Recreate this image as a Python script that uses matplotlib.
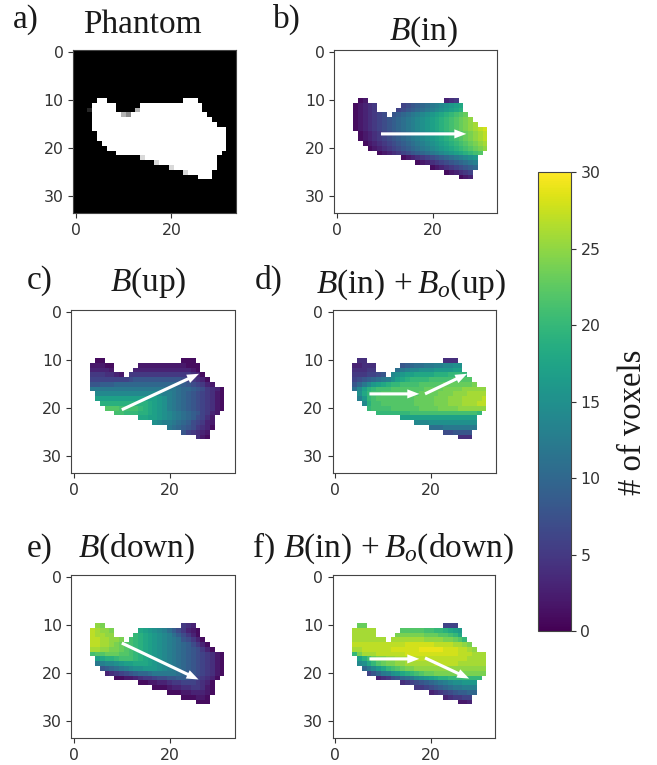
import numpy as np
import matplotlib
matplotlib.use('Agg')
import matplotlib.pyplot as plt

plt.rcParams['mathtext.fontset'] = 'custom'
plt.rcParams['mathtext.rm'] = 'Liberation Serif'
plt.rcParams['mathtext.it'] = 'Liberation Serif:italic'

W, H = 657, 765
N = 34

# voxel columns of the phantom in each row: (first, last)
spans = {
    10: [(5, 6), (23, 25)], 11: [(4, 8), (14, 26)], 12: [(4, 8), (13, 26)],
    13: [(4, 10), (12, 27)], 14: [(4, 28)], 15: [(4, 29)], 16: [(4, 31)],
    17: [(5, 31)], 18: [(5, 31)], 19: [(6, 31)], 20: [(7, 31)], 21: [(9, 30)],
    22: [(14, 29)], 23: [(17, 29)], 24: [(20, 29)], 25: [(23, 28)], 26: [(26, 28)],
}

# partly filled voxels at the edge of the phantom: (row, col, level)
phantom_grey = [(12, 3, 0.15), (13, 10, 0.7), (13, 11, 0.55), (12, 13, 0.7),
                (22, 14, 0.85), (23, 17, 0.85), (24, 20, 0.85), (25, 23, 0.85)]

# number of voxels read per row, left to right
b_in = {
    10: [1, 2, 3, 4, 5],
    11: [1, 2, 3, 4, 5, 6, 7, 8, 9, 10, 11, 12, 13, 14, 15, 16, 17, 18],
    12: [1, 2, 3, 4, 5, 6, 7, 8, 9, 10, 11, 12, 13, 14, 15, 16, 17, 18, 19],
    13: [1, 2, 3, 4, 5, 6, 7, 8, 9, 10, 11, 12, 13, 14, 15, 16, 17, 18, 19, 20, 21, 22, 23],
    14: [1, 2, 3, 4, 5, 6, 7, 8, 9, 10, 11, 12, 13, 14, 15, 16, 17, 18, 19, 20, 21, 22, 23, 24, 25],
    15: [1, 2, 3, 4, 5, 6, 7, 8, 9, 10, 11, 12, 13, 14, 15, 16, 17, 18, 19, 20, 21, 22, 23, 24, 25, 26],
    16: [1, 2, 3, 4, 5, 6, 7, 8, 9, 10, 11, 12, 13, 14, 15, 16, 17, 18, 19, 20, 21, 22, 23, 24, 25, 26, 27, 28],
    17: [1, 2, 3, 4, 5, 6, 7, 8, 9, 10, 11, 12, 13, 14, 15, 16, 17, 18, 19, 20, 21, 22, 23, 24, 25, 26, 27],
    18: [1, 2, 3, 4, 5, 6, 7, 8, 9, 10, 11, 12, 13, 14, 15, 16, 17, 18, 19, 20, 21, 22, 23, 24, 25, 26, 27],
    19: [1, 2, 3, 4, 5, 6, 7, 8, 9, 10, 11, 12, 13, 14, 15, 16, 17, 18, 19, 20, 21, 22, 23, 24, 25, 26],
    20: [1, 2, 3, 4, 5, 6, 7, 8, 9, 10, 11, 12, 13, 14, 15, 16, 17, 18, 19, 20, 21, 22, 23, 24, 25],
    21: [1, 2, 3, 4, 5, 6, 7, 8, 9, 10, 11, 12, 13, 14, 15, 16, 17, 18, 19, 20, 21, 22],
    22: [1, 2, 3, 4, 5, 6, 7, 8, 9, 10, 11, 12, 13, 14, 15, 16],
    23: [1, 2, 3, 4, 5, 6, 7, 8, 9, 10, 11, 12, 13],
    24: [1, 2, 3, 4, 5, 6, 7, 8, 9, 10],
    25: [1, 2, 3, 4, 5, 6],
    26: [1, 2, 3],
}
b_up = {
    10: [1, 1, 1, 1, 1],
    11: [2, 2, 2, 1, 1, 2, 2, 2, 2, 2, 2, 2, 2, 2, 2, 1, 1, 1],
    12: [3, 3, 3, 3, 2, 3, 3, 3, 3, 3, 3, 3, 3, 3, 3, 3, 3, 2, 1],
    13: [5, 5, 5, 4, 4, 3, 2, 5, 5, 5, 5, 5, 5, 5, 5, 5, 5, 5, 5, 5, 4, 3, 1],
    14: [6, 6, 6, 6, 6, 6, 6, 6, 7, 8, 8, 8, 8, 8, 8, 8, 8, 8, 8, 7, 6, 5, 4, 3, 1],
    15: [8, 8, 9, 9, 9, 10, 10, 10, 10, 10, 10, 10, 10, 10, 10, 10, 10, 10, 10, 9, 8, 7, 6, 5, 3, 2],
    16: [12, 12, 12, 12, 12, 12, 12, 12, 12, 12, 12, 12, 12, 12, 12, 12, 12, 12, 11, 10, 10, 9, 8, 7, 5, 4, 3, 1],
    17: [14, 14, 14, 14, 14, 14, 14, 14, 14, 14, 14, 14, 14, 14, 13, 13, 12, 11, 10, 9, 8, 7, 6, 5, 4, 2, 1],
    18: [17, 17, 17, 17, 17, 17, 17, 17, 17, 17, 17, 17, 17, 16, 15, 13, 12, 11, 10, 9, 8, 7, 6, 5, 4, 2, 1],
    19: [19, 19, 19, 19, 19, 19, 19, 19, 19, 19, 18, 17, 16, 15, 13, 12, 11, 10, 9, 8, 7, 6, 5, 4, 2, 1],
    20: [22, 22, 22, 21, 21, 21, 21, 20, 19, 18, 17, 16, 15, 13, 12, 11, 10, 9, 8, 7, 6, 5, 4, 2, 1],
    21: [21, 21, 20, 20, 20, 19, 19, 18, 17, 16, 15, 14, 13, 12, 11, 10, 9, 8, 6, 5, 3, 2],
    22: [18, 18, 17, 17, 16, 15, 14, 13, 12, 11, 10, 9, 7, 6, 4, 2],
    23: [15, 14, 13, 13, 12, 11, 10, 9, 7, 6, 5, 3, 2],
    24: [12, 11, 10, 9, 8, 7, 5, 4, 3, 1],
    25: [8, 6, 5, 4, 3, 2],
    26: [4, 2, 1],
}
b_down = {
    10: [25, 24, 5, 4, 3],
    11: [27, 26, 25, 25, 24, 18, 17, 16, 15, 14, 13, 11, 9, 7, 5, 3, 2, 1],
    12: [27, 26, 26, 25, 25, 20, 19, 18, 17, 16, 15, 14, 13, 11, 9, 7, 5, 3, 1],
    13: [27, 27, 26, 26, 25, 25, 24, 21, 20, 19, 18, 17, 16, 15, 14, 13, 12, 11, 8, 7, 5, 3, 1],
    14: [27, 27, 26, 26, 25, 24, 23, 22, 21, 20, 19, 18, 17, 16, 15, 14, 13, 12, 11, 10, 9, 7, 5, 3, 1],
    15: [26, 26, 25, 25, 24, 24, 23, 22, 21, 20, 19, 18, 17, 16, 15, 14, 13, 12, 11, 10, 9, 8, 7, 5, 3, 1],
    16: [21, 22, 22, 23, 23, 23, 22, 22, 21, 20, 19, 18, 17, 16, 15, 14, 13, 12, 11, 10, 9, 8, 7, 6, 5, 4, 2, 1],
    17: [17, 18, 19, 19, 20, 21, 21, 21, 20, 19, 18, 17, 16, 15, 14, 13, 12, 11, 10, 9, 8, 7, 6, 5, 4, 2, 1],
    18: [12, 13, 14, 14, 15, 16, 17, 17, 18, 18, 18, 17, 16, 15, 14, 13, 12, 11, 10, 9, 8, 7, 6, 5, 4, 2, 1],
    19: [8, 9, 10, 11, 12, 13, 14, 15, 15, 16, 16, 16, 15, 14, 13, 12, 11, 10, 9, 8, 7, 6, 5, 4, 2, 1],
    20: [3, 4, 5, 6, 7, 8, 9, 10, 10, 11, 12, 12, 12, 12, 12, 11, 10, 9, 8, 7, 6, 5, 4, 2, 1],
    21: [1, 1, 2, 2, 3, 4, 5, 5, 6, 7, 7, 8, 8, 9, 9, 8, 7, 6, 5, 4, 3, 1],
    22: [1, 1, 2, 2, 3, 3, 4, 5, 5, 6, 6, 6, 5, 4, 3, 1],
    23: [1, 1, 1, 2, 3, 3, 4, 4, 5, 5, 4, 2, 1],
    24: [1, 1, 1, 2, 2, 3, 3, 3, 2, 1],
    25: [1, 1, 1, 2, 2, 1],
    26: [1, 1, 1],
}
b_in_o_up = {
    10: [4, 4, 4, 4, 4],
    11: [3, 3, 4, 4, 4, 8, 9, 10, 11, 11, 12, 12, 13, 13, 14, 14, 15, 15],
    12: [4, 4, 4, 5, 5, 11, 12, 13, 14, 14, 15, 15, 15, 16, 16, 16, 16, 17, 17],
    13: [5, 5, 5, 6, 6, 7, 8, 14, 15, 16, 17, 17, 18, 18, 18, 18, 19, 19, 19, 20, 20, 20, 20],
    14: [6, 7, 8, 9, 10, 11, 12, 13, 15, 17, 18, 19, 20, 20, 20, 20, 21, 21, 21, 21, 21, 22, 22, 22, 22],
    15: [8, 10, 12, 14, 16, 17, 18, 19, 20, 20, 21, 21, 21, 21, 22, 22, 22, 22, 22, 23, 23, 23, 23, 23, 23, 24],
    16: [11, 14, 17, 19, 20, 21, 21, 21, 22, 22, 22, 22, 22, 22, 22, 23, 23, 23, 23, 24, 24, 24, 24, 25, 25, 25, 25, 25],
    17: [15, 18, 20, 21, 21, 22, 22, 22, 22, 22, 22, 22, 22, 23, 23, 23, 23, 24, 24, 24, 25, 25, 25, 26, 26, 26, 26],
    18: [13, 16, 20, 21, 22, 22, 22, 22, 22, 22, 22, 22, 23, 23, 23, 23, 24, 24, 24, 25, 25, 25, 26, 26, 26, 26, 27],
    19: [14, 19, 21, 21, 22, 22, 22, 22, 22, 22, 22, 23, 23, 23, 23, 24, 24, 24, 25, 25, 25, 26, 26, 26, 27, 27],
    20: [20, 21, 21, 21, 21, 22, 22, 22, 22, 22, 22, 23, 23, 23, 23, 24, 24, 24, 24, 25, 25, 25, 25, 25, 25],
    21: [20, 20, 20, 20, 20, 20, 20, 21, 21, 21, 21, 21, 21, 21, 21, 21, 21, 21, 21, 21, 21, 20],
    22: [17, 17, 17, 17, 17, 17, 17, 17, 17, 17, 17, 17, 17, 17, 17, 17],
    23: [14, 14, 14, 15, 15, 15, 15, 15, 15, 15, 15, 15, 15],
    24: [11, 11, 11, 12, 12, 12, 12, 12, 12, 12],
    25: [7, 7, 8, 8, 8, 8],
    26: [4, 4, 4],
}
b_in_o_down = {
    10: [23, 23, 6, 6, 6],
    11: [26, 26, 26, 26, 26, 22, 22, 22, 22, 22, 21, 21, 20, 20, 19, 18, 17, 16],
    12: [26, 26, 26, 26, 26, 24, 24, 24, 24, 24, 24, 23, 23, 23, 22, 22, 21, 20, 18],
    13: [26, 26, 26, 26, 26, 26, 26, 26, 26, 26, 26, 26, 26, 26, 25, 25, 25, 25, 24, 24, 23, 22, 20],
    14: [27, 27, 27, 27, 27, 27, 27, 27, 27, 27, 27, 28, 28, 28, 28, 28, 28, 27, 27, 27, 27, 26, 26, 25, 24],
    15: [26, 26, 27, 27, 27, 27, 27, 27, 28, 28, 28, 28, 28, 28, 29, 29, 29, 29, 29, 28, 28, 28, 27, 27, 26, 25],
    16: [20, 24, 26, 26, 26, 27, 27, 27, 27, 27, 27, 28, 28, 28, 28, 28, 28, 28, 28, 28, 28, 28, 27, 27, 27, 26, 26, 26],
    17: [17, 19, 21, 23, 24, 24, 25, 25, 26, 26, 26, 27, 27, 27, 27, 27, 27, 27, 27, 27, 27, 27, 27, 26, 26, 26, 26],
    18: [14, 15, 18, 20, 22, 23, 24, 24, 25, 25, 26, 26, 26, 26, 26, 26, 27, 27, 27, 27, 27, 26, 26, 26, 26, 26, 26],
    19: [10, 12, 14, 16, 18, 20, 21, 22, 23, 24, 24, 25, 25, 25, 25, 25, 25, 25, 25, 25, 25, 25, 25, 25, 25, 25],
    20: [6, 8, 10, 12, 13, 15, 16, 18, 19, 20, 21, 22, 23, 23, 24, 24, 24, 24, 24, 24, 24, 24, 24, 24, 24],
    21: [3, 4, 5, 7, 8, 10, 11, 12, 14, 15, 16, 17, 18, 19, 19, 20, 20, 20, 20, 20, 20, 20],
    22: [4, 5, 6, 7, 8, 9, 10, 11, 12, 13, 14, 15, 15, 16, 16, 16],
    23: [5, 5, 6, 7, 8, 9, 10, 11, 12, 12, 13, 13, 13],
    24: [3, 4, 5, 6, 7, 8, 9, 9, 10, 10],
    25: [3, 4, 5, 5, 6, 6],
    26: [2, 2, 3],
}

# arrows per panel: (x start, y start, x end, y end)
arrows_b = [(9.2, 17, 27, 17)]
arrows_c = [(10, 20.3, 26.1, 12.8)]
arrows_d = [(7.2, 17, 17.6, 17), (18.8, 17, 27.6, 12.8)]
arrows_e = [(10, 13.7, 26, 21.3)]
arrows_f = [(7.2, 17, 17.6, 17), (18.8, 16.8, 28, 21.1)]

cbar_ticks = [0, 5, 10, 15, 20, 25, 30]
x_ticks = [0, 20]
y_ticks = [0, 10, 20, 30]


def to_grid(rows):
    grid = np.full((N, N), np.nan)
    for r, vals in rows.items():
        cols = [c for a, z in spans[r] for c in range(a, z + 1)]
        assert len(cols) == len(vals), (r, len(cols), len(vals))
        grid[r, cols] = vals
    return grid


def box(l, t, r, b):
    # pixel box to figure fractions
    return [l / W, 1 - b / H, (r - l) / W, (b - t) / H]


def label(x, y, s, size=24, **kw):
    fig.text(x / W, 1 - y / H, s, fontsize=size, family='Liberation Serif',
             va='baseline', color='#1a1a1a', **kw)


def style(ax):
    ax.set_xticks(x_ticks)
    ax.set_yticks(y_ticks)
    ax.tick_params(labelsize=11.3, length=3.5, width=0.8, colors='#333333')
    for s in ax.spines.values():
        s.set_color('#444444')


fig = plt.figure(figsize=(W / 100, H / 100), dpi=100)

# phantom
ax = fig.add_axes(box(72.7, 50, 236.7, 213))
phantom = np.zeros((N, N))
for r, parts in spans.items():
    for a, z in parts:
        phantom[r, a:z + 1] = 1
for r, c, v in phantom_grey:
    phantom[r, c] = v
ax.imshow(phantom, cmap='gray', vmin=0, vmax=1, interpolation='nearest')
style(ax)

panels = [
    (b_in, arrows_b, (334.3, 50, 497.7, 213)),
    (b_up, arrows_c, (71.3, 310, 234.7, 473)),
    (b_in_o_up, arrows_d, (332.3, 310, 495.7, 473)),
    (b_down, arrows_e, (71.3, 575, 234.7, 738)),
    (b_in_o_down, arrows_f, (332.3, 575, 495.7, 738)),
]
for rows, arrows, pos in panels:
    ax = fig.add_axes(box(*pos))
    im = ax.imshow(to_grid(rows), cmap='viridis', vmin=0, vmax=30, interpolation='nearest')
    for x0, y0, x1, y1 in arrows:
        ax.arrow(x0, y0, x1 - x0, y1 - y0, width=0.65, head_width=1.9, head_length=2.5,
                 length_includes_head=True, color='white', linewidth=0)
    style(ax)

cax = fig.add_axes(box(538.3, 172.3, 570.7, 631))
cb = fig.colorbar(im, cax=cax)
cb.set_ticks(cbar_ticks)
cax.tick_params(labelsize=11.3, length=3.5, width=0.8, colors='#333333')
cb.outline.set_edgecolor('#444444')

label(13, 28, 'a)')
label(83, 33, 'Phantom')
label(273, 28, 'b)')
label(389, 40, '$B$(in)')
label(27, 289, 'c)')
label(110, 291, '$B$(up)')
label(255, 289, 'd)')
label(316, 293, '$B$(in)$\\,+B_o$(up)')
label(27, 557, 'e)')
label(78, 557, '$B$(down)')
label(253, 557, 'f)')
label(283, 557, '$B$(in)$\\,+B_o$(down)')
fig.text(633 / W, 1 - 422 / H, '# of voxels', fontsize=23.5, family='Liberation Serif',
         rotation=90, ha='center', va='center', color='#1a1a1a')

fig.savefig('out.png', dpi=100)
